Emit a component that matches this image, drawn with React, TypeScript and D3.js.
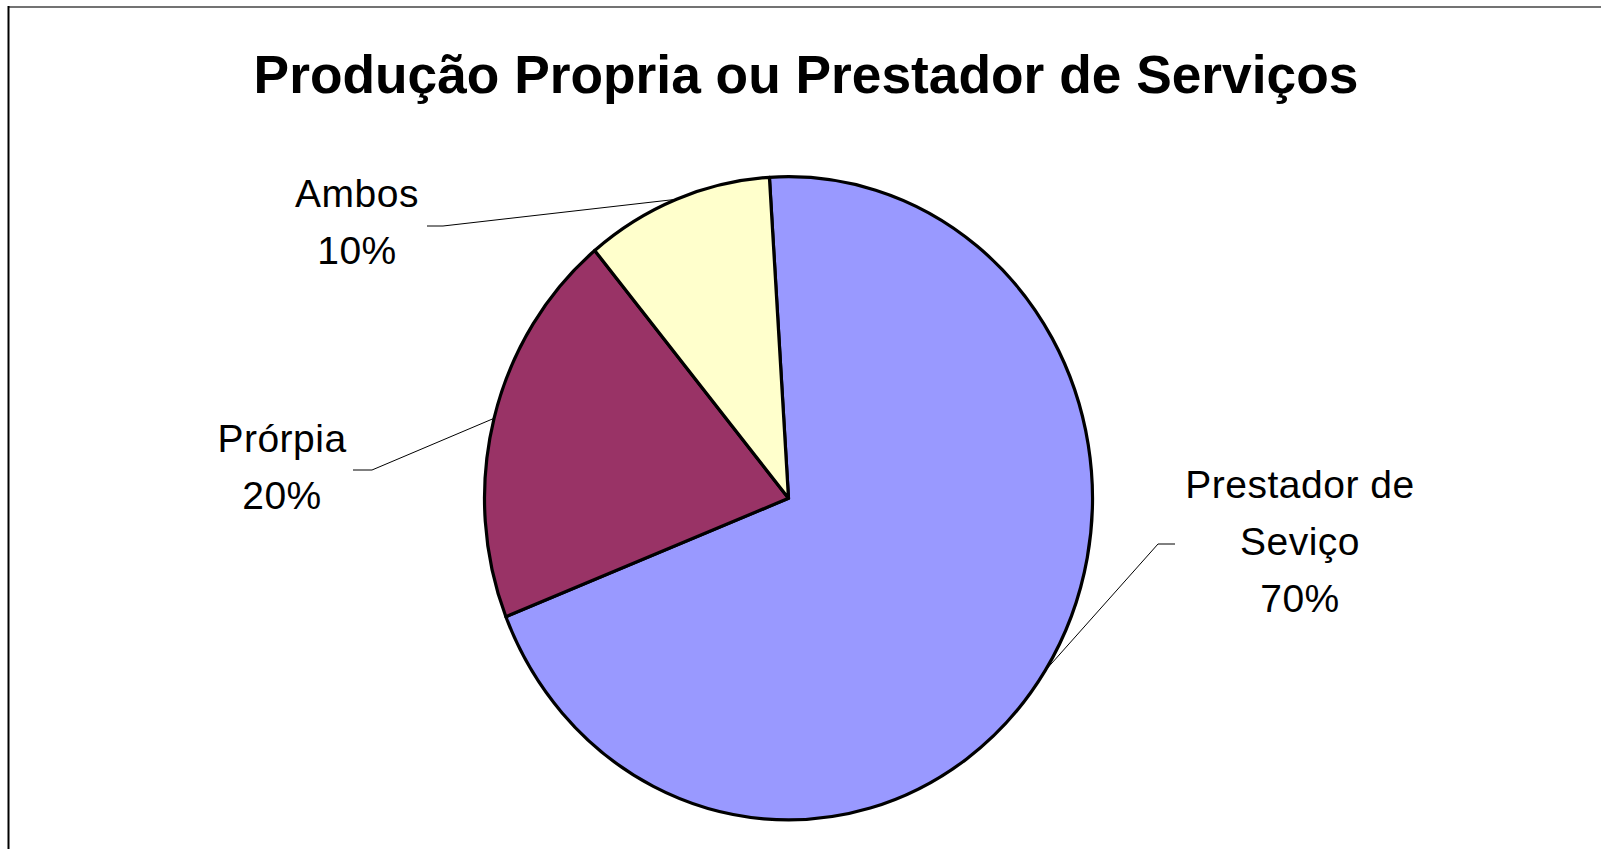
import React from "react";
import * as d3 from "d3";

// ---- data ----
const categories = ["Prestador de Seviço", "Prórpia", "Ambos"];
const values = [70, 20, 10];
const labelLines = [["Prestador de", "Seviço", "70%"], ["Prórpia", "20%"], ["Ambos", "10%"]];
const colors = ["#9999FF", "#993366", "#FFFFCC"];
const title = "Produção Propria ou Prestador de Serviços";

// ---- layout ----
const W = 1601;
const H = 849;
const cx = 788.5;
const cy = 498.3;
const R = 304;
const sy = 1.058;
const startDeg = -3.6;
// leader elbow / end points and label centers, per slice
const leaderLayout = [
  { elbow: [1158, 544], end: [1175, 544], label: [1300, 498] },
  { elbow: [372, 470], end: [353, 470], label: [282, 452] },
  { elbow: [443, 226], end: [427, 226], label: [357, 207] },
];
const lineGap = 57;

export default function App() {
  const start = (startDeg * Math.PI) / 180;
  const pie = d3
    .pie<number>()
    .sort(null)
    .startAngle(start)
    .endAngle(start + 2 * Math.PI)
    .value((d) => d);
  const arcs = pie(values);
  const arc = d3.arc<d3.PieArcDatum<number>>().innerRadius(0).outerRadius(R);

  return (
    <svg
      width={W}
      height={H}
      style={{ position: "absolute", left: 0, top: 0, background: "#fff" }}
      fontFamily="'Liberation Sans', Arial, sans-serif"
    >
      <rect x={0} y={0} width={W} height={H} fill="#fff" />
      {/* frame */}
      <line x1={8} y1={7} x2={W} y2={7} stroke="#444" strokeWidth={1.5} />
      <line x1={8.5} y1={6} x2={8.5} y2={H} stroke="#000" strokeWidth={2} />

      <text
        x={806}
        y={93}
        textAnchor="middle"
        fontSize={53.3}
        fontWeight="bold"
        fill="#000"
      >
        {title}
      </text>

      <g transform={`translate(${cx},${cy}) scale(1,${sy})`}>
        {arcs.map((a, i) => (
          <path
            key={categories[i]}
            d={arc(a) || ""}
            fill={colors[i]}
            stroke="#000"
            strokeWidth={3.2}
            strokeLinejoin="round"
            vectorEffect="non-scaling-stroke"
          />
        ))}
      </g>

      {arcs.map((a, i) => {
        const mid = (a.startAngle + a.endAngle) / 2;
        const x0 = cx + R * Math.sin(mid);
        const y0 = cy - R * Math.cos(mid) * sy;
        const L = leaderLayout[i];
        return (
          <g key={"lbl" + i}>
            <polyline
              points={`${x0},${y0} ${L.elbow[0]},${L.elbow[1]} ${L.end[0]},${L.end[1]}`}
              fill="none"
              stroke="#000"
              strokeWidth={1}
            />
            {labelLines[i].map((t, j) => (
              <text
                key={j}
                x={L.label[0]}
                y={L.label[1] + j * lineGap}
                textAnchor="middle"
                fontSize={39}
                letterSpacing={0.5}
                fill="#000"
              >
                {t}
              </text>
            ))}
          </g>
        );
      })}
    </svg>
  );
}
